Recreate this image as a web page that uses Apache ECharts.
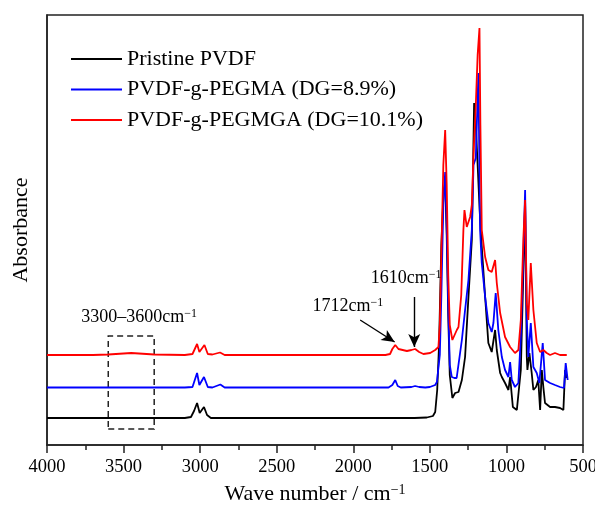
<!DOCTYPE html>
<html>
<head>
<meta charset="utf-8">
<script src="https://cdn.jsdelivr.net/npm/echarts@6/dist/echarts.min.js"></script>
<style>html,body{margin:0;padding:0;background:#fff}#c{width:595px;height:514px}</style>
</head>
<body>
<div id="c"></div>
<script>
// ---- data (wavenumber in cm^-1, absorbance in arbitrary offset units) ----
var seriesNames = ['Pristine PVDF', 'PVDF-g-PEGMA (DG=8.9%)', 'PVDF-g-PEGMGA (DG=10.1%)'];
var seriesColors = ['#000000', '#0000ff', '#ff0000'];
var xTicks = [4000, 3500, 3000, 2500, 2000, 1500, 1000, 500];

var pristineWn = [4000,3500,3100,3060,3040,3020,3003,2975,2955,2930,2500,2000,1600,1520,1480,1465,1452,1440,1425,1410,1400,1390,1380,1370,1353,1335,1313,1291,1270,1248,1226,1211,1200,1185,1175,1161,1139,1118,1096,1074,1063,1041,1030,1009,987,976,958,932,922,906,889,878,867,863,850,835,824,807,792,780,769,759,748,715,683,650,628,617,606];
var pristineAbs = [27,27,27,28,34,42,32,38,30,27,27,27,27,27.5,29,33,55,100,200,255,262,210,130,70,47,52,53,65,88,148,205,342,320,270,235,198,148,102,93,115,95,72,68,62,55,68,38,35,35,75,175,242,88,75,92,72,55,58,65,35,75,58,42,38,38,37,35,75,67];

var pegmaWn = [4000,3500,3100,3050,3035,3020,3005,2975,2950,2920,2868,2840,2500,2000,1770,1745,1726,1710,1690,1620,1596,1570,1530,1500,1465,1454,1444,1435,1425,1412,1400,1390,1380,1370,1357,1340,1325,1291,1270,1248,1226,1215,1200,1183,1172,1161,1139,1118,1096,1085,1070,1053,1030,1009,987,976,965,944,922,906,889,878,867,857,841,824,802,785,763,748,715,683,650,624,613,600];
var pegmaAbs = [57.5,57.5,57.5,58,65,72,60,68,58,57.5,60.5,57.5,57.5,57.5,57.5,60,65,59,57.5,58,59,58,57.5,58,60,63,64,90,150,240,273,220,140,80,68,67,67,105,135,165,215,280,287,372,215,182,148,122,113,122,152,115,88,75,68,83,65,58,62,108,192,255,125,88,122,78,72,62,102,65,62,60,58,57,82,65];

var pegmgaWn = [4000,3700,3600,3450,3300,3100,3050,3035,3020,3005,2972,2950,2920,2870,2840,2000,1790,1760,1745,1726,1705,1650,1620,1596,1570,1542,1498,1465,1444,1435,1425,1412,1400,1390,1380,1370,1353,1324,1313,1295,1281,1274,1259,1237,1226,1215,1200,1188,1176,1170,1161,1139,1118,1096,1074,1063,1041,1009,976,944,922,906,889,878,867,857,841,824,802,780,759,737,715,683,650,606];
var pegmgaAbs = [90,90,90.5,92,90.5,90,91,96,101,93,100,91,90.5,92.5,90,90,90,91,96,100,96,94,95,96,93,91,92,95,98,120,190,280,315,260,170,120,105,115,118,150,215,235,218,228,240,290,340,390,417,320,215,188,175,173,185,162,132,108,98,92,95,125,208,245,142,125,182,135,102,93,95,92,90,92,90,90];

// annotations (data coordinates)
var boxRange = [3600, 3300];      // dashed box, cm^-1
var boxAbs = [16, 109];
var arrow1712 = [[1955, 125], [1730, 103]];
var arrow1610 = [[1602, 148], [1602, 98]];
var text1712Pos = [2036, 139];
var text1610Pos = [1655, 167];

function zip(a, b) { return a.map(function (v, i) { return [v, b[i]]; }); }

var FONT = '"Liberation Serif", "Times New Roman", serif';
var supRich = {
  base: { fontFamily: FONT, fontSize: 18, color: '#000' },
  sup: { fontFamily: FONT, fontSize: 12, color: '#000', verticalAlign: 'top' }
};

var chart = echarts.init(document.getElementById('c'), null, { renderer: 'canvas' });

var allWn = [pristineWn, pegmaWn, pegmgaWn];
var allAbs = [pristineAbs, pegmaAbs, pegmgaAbs];

var series = seriesNames.map(function (name, i) {
  return {
    name: name,
    type: 'line',
    data: zip(allWn[i], allAbs[i]),
    symbol: 'none',
    smooth: false,
    lineStyle: { color: seriesColors[i], width: 1.8 },
    itemStyle: { color: seriesColors[i] },
    z: 2 + i
  };
});

series[0].markArea = {
  silent: true,
  itemStyle: { color: 'rgba(0,0,0,0)', borderColor: '#222', borderWidth: 1.5, borderType: [6, 4] },
  label: {
    show: true, position: 'top', distance: 9, offset: [8, 0],
    formatter: '{base|3300–3600cm}{sup|−1}', rich: supRich
  },
  data: [[{ xAxis: boxRange[0], yAxis: boxAbs[0] }, { xAxis: boxRange[1], yAxis: boxAbs[1] }]]
};

series[2].markLine = {
  silent: true,
  symbol: ['none', 'arrow'],
  symbolSize: [9, 13],
  lineStyle: { color: '#000', width: 1.4, type: 'solid' },
  label: { show: false },
  data: [
    [{ coord: arrow1712[0] }, { coord: arrow1712[1] }],
    [{ coord: arrow1610[0] }, { coord: arrow1610[1] }]
  ]
};
series[2].markPoint = {
  silent: true,
  symbol: 'circle',
  symbolSize: 0,
  label: { show: true, position: 'inside', rich: supRich },
  data: [
    { coord: text1712Pos, label: { formatter: '{base|1712cm}{sup|−1}' } },
    { coord: text1610Pos, label: { formatter: '{base|1610cm}{sup|−1}' } }
  ]
};

chart.setOption({
  animation: false,
  backgroundColor: '#fff',
  grid: { left: 47, right: 12, top: 15, bottom: 69, show: true, borderColor: '#222', borderWidth: 1.5, containLabel: false, outerBoundsMode: 'none' },
  legend: {
    orient: 'vertical', left: 66, top: 43,
    icon: 'rect', itemWidth: 51, itemHeight: 2, itemGap: 8.5,
    textStyle: { fontFamily: FONT, fontSize: 22, color: '#000' },
    data: seriesNames
  },
  xAxis: {
    type: 'value', inverse: true, min: 500, max: 4000, interval: 500,
    name: '{base|Wave number / cm}{sup|−1}',
    nameLocation: 'middle', nameGap: 38,
    nameTextStyle: {
      rich: {
        base: { fontFamily: FONT, fontSize: 22, color: '#000' },
        sup: { fontFamily: FONT, fontSize: 14, color: '#000', verticalAlign: 'top' }
      }
    },
    axisLine: { show: true, lineStyle: { color: '#222', width: 1.5 } },
    axisTick: { show: true, length: 8, lineStyle: { color: '#222', width: 1.5 } },
    minorTick: { show: true, splitNumber: 2, length: 5, lineStyle: { color: '#222', width: 1.5 } },
    splitLine: { show: false },
    axisLabel: {
      margin: 13, fontFamily: FONT, fontSize: 18.5, color: '#000',
      formatter: function (v) { return String(v); }
    }
  },
  yAxis: {
    type: 'value', min: 0, max: 430,
    name: 'Absorbance', nameLocation: 'middle', nameGap: 15, nameRotate: 90,
    nameTextStyle: { fontFamily: FONT, fontSize: 22, color: '#000' },
    axisLine: { show: true, lineStyle: { color: '#222', width: 1.5 } },
    axisTick: { show: false },
    axisLabel: { show: false },
    splitLine: { show: false }
  },
  series: series
});
</script>
</body>
</html>
